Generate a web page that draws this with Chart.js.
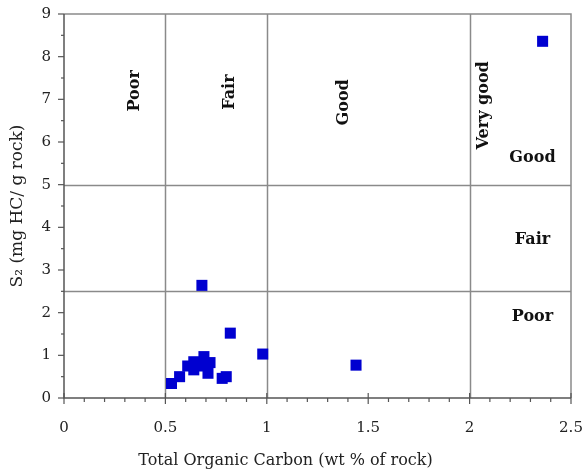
<!DOCTYPE html>
<html>
<head>
<meta charset="utf-8">
<script src="https://cdn.jsdelivr.net/npm/chart.js@4/dist/chart.umd.min.js"></script>
<style>
  html, body { margin: 0; padding: 0; background: #fff; }
  #wrap { width: 583px; height: 474px; }
</style>
</head>
<body>
<div id="wrap"><canvas id="chart"></canvas></div>
<script>
// TOC (wt %) and S2 (mg HC/g rock)
var tocValues = [0.53, 0.57, 0.61, 0.64, 0.64, 0.67, 0.69, 0.72, 0.71, 0.78, 0.80, 0.68, 0.82, 0.98, 1.44, 2.36];
var s2Values  = [0.34, 0.50, 0.75, 0.85, 0.66, 0.75, 0.97, 0.83, 0.58, 0.46, 0.50, 2.64, 1.52, 1.03, 0.77, 8.36];

var xTicks = [0, 0.5, 1, 1.5, 2, 2.5];
var yTicks = [0, 1, 2, 3, 4, 5, 6, 7, 8, 9];

// class boundaries
var tocLimits = [0.5, 1, 2];
var s2Limits = [2.5, 5];

var tocClasses = ['Poor', 'Fair', 'Good', 'Very good'];
var tocClassX = [0.35, 0.82, 1.38, 2.07];
var tocClassY = [7.2, 7.17, 6.93, 6.86];
var s2Classes = ['Good', 'Fair', 'Poor'];
var s2ClassY = [5.62, 3.70, 1.90];

var xTitle = 'Total Organic Carbon (wt % of rock)';

var points = tocValues.map(function (v, i) { return { x: v, y: s2Values[i] }; });

var FONT = '"DejaVu Serif", "Liberation Serif", serif';
var LINE = '#8a8a8a';

var framePlugin = {
  id: 'frame',
  beforeDatasetsDraw: function (chart) {
    var ctx = chart.ctx;
    var xs = chart.scales.x, ys = chart.scales.y;
    var a = chart.chartArea;
    ctx.save();
    ctx.lineWidth = 1.5;
    ctx.strokeStyle = LINE;
    // class boundary lines
    tocLimits.forEach(function (v) {
      var px = Math.round(xs.getPixelForValue(v)) + 0.5;
      ctx.beginPath(); ctx.moveTo(px, a.top); ctx.lineTo(px, a.bottom); ctx.stroke();
    });
    s2Limits.forEach(function (v) {
      var py = Math.round(ys.getPixelForValue(v)) + 0.5;
      ctx.beginPath(); ctx.moveTo(a.left, py); ctx.lineTo(a.right, py); ctx.stroke();
    });
    // top and right border
    ctx.beginPath();
    ctx.moveTo(a.left, a.top); ctx.lineTo(a.right, a.top); ctx.lineTo(a.right, a.bottom);
    ctx.stroke();
    // axes
    ctx.strokeStyle = '#555';
    ctx.lineWidth = 1.5;
    ctx.beginPath();
    ctx.moveTo(a.left, a.top); ctx.lineTo(a.left, a.bottom); ctx.lineTo(a.right, a.bottom);
    ctx.stroke();
    ctx.lineWidth = 1.2;
    // x ticks: majors cross, minors below
    for (var i = 0; i <= 25; i++) {
      var px = xs.getPixelForValue(i / 10);
      var major = i % 5 === 0;
      ctx.beginPath();
      ctx.moveTo(px, a.bottom - (major ? 5 : 0));
      ctx.lineTo(px, a.bottom + (major ? 6 : 4));
      ctx.stroke();
    }
    // y ticks: majors and halves to the left
    for (var j = 0; j <= 18; j++) {
      var py = ys.getPixelForValue(j / 2);
      var maj = j % 2 === 0;
      ctx.beginPath();
      ctx.moveTo(a.left, py);
      ctx.lineTo(a.left - (maj ? 6 : 3), py);
      ctx.stroke();
    }
    // class labels
    ctx.fillStyle = '#111';
    ctx.font = 'bold 16px ' + FONT;
    ctx.textAlign = 'center';
    ctx.textBaseline = 'middle';
    tocClasses.forEach(function (t, k) {
      ctx.save();
      ctx.translate(xs.getPixelForValue(tocClassX[k]), ys.getPixelForValue(tocClassY[k]));
      ctx.rotate(-Math.PI / 2);
      ctx.fillText(t, 0, 0);
      ctx.restore();
    });
    s2Classes.forEach(function (t, k) {
      ctx.fillText(t, xs.getPixelForValue(2.31), ys.getPixelForValue(s2ClassY[k]));
    });
    // x axis title, centred on the whole figure like the original
    ctx.fillStyle = '#222';
    ctx.font = '16px ' + FONT;
    ctx.fillText(xTitle, chart.width / 2 - 6, chart.height - 13);
    ctx.restore();
  }
};

new Chart(document.getElementById('chart'), {
  type: 'scatter',
  data: {
    datasets: [{
      label: 'Samples',
      data: points,
      pointStyle: 'rect',
      pointRadius: 7.8,
      pointHoverRadius: 7.8,
      backgroundColor: '#0000d0',
      borderColor: '#0000d0',
      borderWidth: 0
    }]
  },
  plugins: [framePlugin],
  options: {
    responsive: true,
    maintainAspectRatio: false,
    animation: false,
    layout: { padding: { top: 14, right: 12, left: 0, bottom: 0 } },
    plugins: { legend: { display: false }, tooltip: { enabled: false } },
    scales: {
      x: {
        type: 'linear',
        min: 0, max: 2.5,
        afterBuildTicks: function (s) { s.ticks = xTicks.map(function (v) { return { value: v }; }); },
        afterFit: function (s) { s.height = 76; s.paddingLeft = 0; s.paddingRight = 0; },
        grid: { display: false, drawTicks: false },
        border: { display: false },
        ticks: {
          padding: 21,
          color: '#222',
          font: { family: FONT, size: 15 },
          callback: function (v) { return String(v); }
        },
        title: { display: false }
      },
      y: {
        type: 'linear',
        min: 0, max: 9,
        afterBuildTicks: function (s) { s.ticks = yTicks.map(function (v) { return { value: v }; }); },
        afterFit: function (s) { s.width = 64; s.paddingTop = 0; s.paddingBottom = 0; },
        grid: { display: false, drawTicks: false },
        border: { display: false },
        ticks: {
          padding: 13,
          color: '#222',
          font: { family: FONT, size: 15 }
        },
        title: {
          display: true,
          text: 'S₂ (mg HC/ g rock)',
          color: '#222',
          font: { family: FONT, size: 17 },
          padding: { top: 7, bottom: 0 }
        }
      }
    }
  }
});
</script>
</body>
</html>
